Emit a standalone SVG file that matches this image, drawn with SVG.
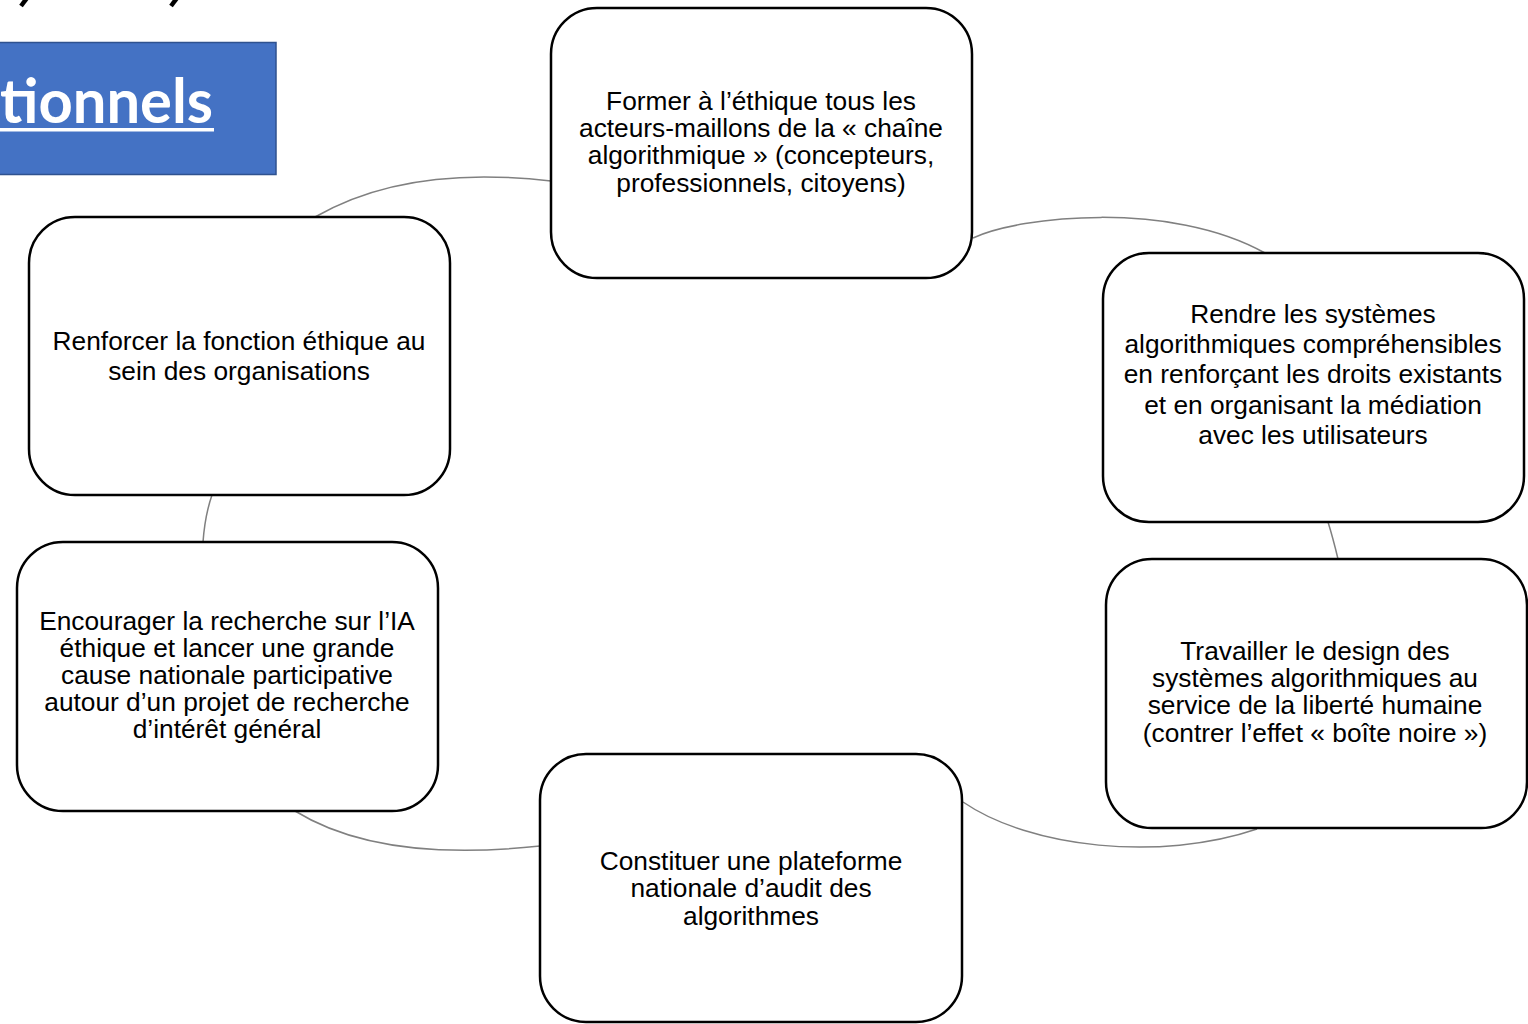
<svg xmlns="http://www.w3.org/2000/svg" width="1528" height="1024" viewBox="0 0 1528 1024">
<defs>
<style>
.box{fill:#ffffff;stroke:#000000;stroke-width:2.5}
.lbl{font-family:"Liberation Sans",Arial,sans-serif;font-size:26.3px;fill:#000000;text-anchor:middle}
.arc{fill:none;stroke:#808080;stroke-width:1.5}
.ttl{font-family:Lato,"Open Sans",sans-serif;font-weight:bold;fill:#ffffff}
.frag{stroke:#000000;stroke-width:4.5;stroke-linecap:butt}
</style>
</defs>
<rect width="1528" height="1024" fill="#ffffff"/>
<g id="title-fragment">
<line class="frag" x1="27" y1="-2" x2="21" y2="6"/>
<line class="frag" x1="177" y1="-2" x2="171" y2="6"/>
</g>
<g id="banner">
<rect x="-2" y="42.5" width="278" height="132" fill="#4472c4" stroke="#2f528f" stroke-width="1.5"/>
<text class="ttl" x="0" y="123" font-size="62" textLength="213" lengthAdjust="spacingAndGlyphs">tionnels</text>
<rect x="0" y="128" width="214" height="3.5" fill="#ffffff"/>
</g>
<g id="connectors">
<path class="arc" d="M315,217 C365,188 440,168 551,181"/>
<path class="arc" d="M973,238 C1020,216 1170,200 1265,253"/>
<path class="arc" d="M1328,522 Q1333,538 1338,559"/>
<path class="arc" d="M963,802 C1030,848 1160,862 1257,829"/>
<path class="arc" d="M295,811 C350,845 430,858 540,846"/>
<path class="arc" d="M212,495 Q205,515 203,542"/>
</g>
<g id="node-former">
<rect class="box" x="551" y="8" width="421" height="270" rx="46"/>
<text class="lbl"><tspan x="761" y="110">Former à l’éthique tous les</tspan><tspan x="761" y="137">acteurs-maillons de la « chaîne</tspan><tspan x="761" y="164">algorithmique » (concepteurs,</tspan><tspan x="761" y="192">professionnels, citoyens)</tspan></text>
</g>
<g id="node-renforcer">
<rect class="box" x="29" y="217" width="421" height="278" rx="46"/>
<text class="lbl"><tspan x="239" y="350">Renforcer la fonction éthique au</tspan><tspan x="239" y="380">sein des organisations</tspan></text>
</g>
<g id="node-rendre">
<rect class="box" x="1103" y="253" width="421" height="269" rx="46"/>
<text class="lbl"><tspan x="1313" y="323">Rendre les systèmes</tspan><tspan x="1313" y="353">algorithmiques compréhensibles</tspan><tspan x="1313" y="383">en renforçant les droits existants</tspan><tspan x="1313" y="414">et en organisant la médiation</tspan><tspan x="1313" y="444">avec les utilisateurs</tspan></text>
</g>
<g id="node-travailler">
<rect class="box" x="1106" y="559" width="421" height="269" rx="46"/>
<text class="lbl"><tspan x="1315" y="660">Travailler le design des</tspan><tspan x="1315" y="687">systèmes algorithmiques au</tspan><tspan x="1315" y="714">service de la liberté humaine</tspan><tspan x="1315" y="742">(contrer l’effet « boîte noire »)</tspan></text>
</g>
<g id="node-constituer">
<rect class="box" x="540" y="754" width="422" height="268" rx="46"/>
<text class="lbl"><tspan x="751" y="870">Constituer une plateforme</tspan><tspan x="751" y="897">nationale d’audit des</tspan><tspan x="751" y="925">algorithmes</tspan></text>
</g>
<g id="node-encourager">
<rect class="box" x="17" y="542" width="421" height="269" rx="46"/>
<text class="lbl"><tspan x="227" y="630">Encourager la recherche sur l’IA</tspan><tspan x="227" y="657">éthique et lancer une grande</tspan><tspan x="227" y="684">cause nationale participative</tspan><tspan x="227" y="711">autour d’un projet de recherche</tspan><tspan x="227" y="738">d’intérêt général</tspan></text>
</g>
</svg>
